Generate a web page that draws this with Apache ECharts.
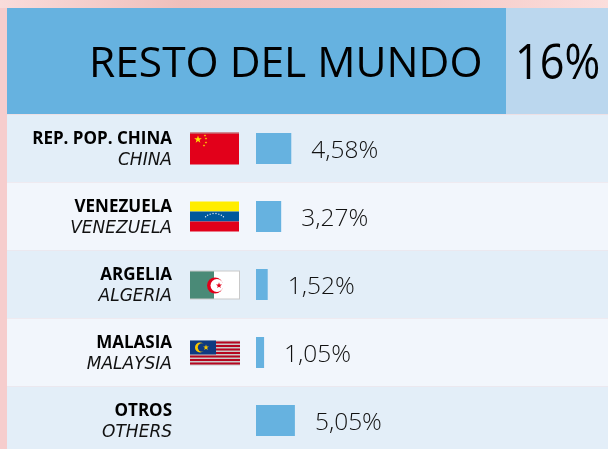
<!DOCTYPE html>
<html>
<head>
<meta charset="utf-8">
<script src="https://cdn.jsdelivr.net/npm/echarts@6/dist/echarts.min.js"></script>
<style>
    html, body { margin: 0; padding: 0; background: #f7d3d2; }
    #chart { width: 608px; height: 449px; }
</style>
</head>
<body>
<div id="chart"></div>
<script>
// Chart data
var titleText = 'RESTO DEL MUNDO';
var totalText = '16%';
var namesEs = ['REP. POP. CHINA', 'VENEZUELA', 'ARGELIA', 'MALASIA', 'OTROS'];
var namesEn = ['CHINA', 'VENEZUELA', 'ALGERIA', 'MALAYSIA', 'OTHERS'];
var shares = [4.58, 3.27, 1.52, 1.05, 5.05];
var flags = ['china', 'venezuela', 'algeria', 'malaysia', null];

var font = '"Open Sans", "Noto Sans", sans-serif';

var categories = namesEs.map(function(name, i) {
    return '{b|' + name + '}\n{i|' + namesEn[i] + '}';
});

// Five pointed star, centred on cx, cy
function star(cx, cy, r, fill) {
    var pts = [];
    for (var i = 0; i < 10; i++) {
        var rad = i % 2 ? r * 0.4 : r;
        var a = -Math.PI / 2 + i * Math.PI / 5;
        pts.push([cx + rad * Math.cos(a), cy + rad * Math.sin(a)]);
    }
    return { type: 'polygon', shape: { points: pts }, style: { fill: fill } };
}

function rect(x, y, w, h, fill) {
    return { type: 'rect', shape: { x: x, y: y, width: w, height: h }, style: { fill: fill } };
}

function circle(cx, cy, r, fill) {
    return { type: 'circle', shape: { cx: cx, cy: cy, r: r }, style: { fill: fill } };
}

// Flags are drawn relative to the row centre (x, y is the flag's left, centre)
var flagShapes = {
    china: function(x, y) {
        return [
            rect(x, y - 16, 49, 32, '#e2001a'),
            rect(x, y - 16, 49, 1, '#b9a0a0'),
            star(x + 8, y - 9, 4, '#ffe000'),
            star(x + 15, y - 13, 1.3, '#ffe000'),
            star(x + 16, y - 10, 1.3, '#ffe000'),
            star(x + 16, y - 6, 1.3, '#ffe000'),
            star(x + 14, y - 3, 1.3, '#ffe000')
        ];
    },
    venezuela: function(x, y) {
        var out = [
            rect(x, y - 15, 49, 10, '#ffed00'),
            rect(x, y - 5, 49, 10, '#00589c'),
            rect(x, y + 5, 49, 10, '#e2001a')
        ];
        for (var i = 0; i < 8; i++) {
            var a = Math.PI * (0.2 + 0.6 * i / 7);
            out.push(circle(x + 24.5 - 11 * Math.cos(a), y + 5 - 8 * Math.sin(a), 0.7, '#dfe9f2'));
        }
        return out;
    },
    algeria: function(x, y) {
        return [
            rect(x, y - 14, 50, 29, '#c9c9c9'),
            rect(x, y - 13, 24, 27, '#4a8a77'),
            rect(x + 24, y - 13, 25, 27, '#ffffff'),
            circle(x + 25, y + 1, 8, '#e2001a'),
            circle(x + 27, y + 1, 6.5, '#ffffff'),
            star(x + 29, y + 1, 3.2, '#e2001a')
        ];
    },
    malaysia: function(x, y) {
        var out = [rect(x, y - 12, 50, 25, '#c9c9c9')];
        for (var i = 0; i < 7; i++) {
            out.push(rect(x, y - 11 + i * 3.5, 50, 1.9, '#b5051f'));
        }
        out.push(rect(x, y - 12, 26, 14, '#0f3a80'));
        out.push(circle(x + 10, y - 5, 5, '#f7c600'));
        out.push(circle(x + 12, y - 5, 4.2, '#0f3a80'));
        out.push(star(x + 16, y - 5, 3, '#f7c600'));
        return out;
    }
};

var myChart = echarts.init(document.getElementById('chart'));

myChart.setOption({
    animation: false,
    backgroundColor: 'transparent',

    title: {
        text: titleText,
        left: 84,
        top: 38,
        textStyle: { fontFamily: font, fontSize: 42.5, fontWeight: 400, color: '#000' }
    },

    // Page backdrop and header blocks
    graphic: [
        { type: 'rect', z: -10, shape: { x: 0, y: 0, width: 608, height: 8 },
          style: { fill: new echarts.graphic.LinearGradient(0, 0, 1, 0, [
              { offset: 0, color: '#f9dcdb' }, { offset: 0.3, color: '#efbfbb' },
              { offset: 0.7, color: '#f5c9c6' }, { offset: 1, color: '#fbdedc' }
          ]) } },
        { type: 'rect', z: -10, shape: { x: 0, y: 8, width: 7, height: 441 },
          style: { fill: '#f6cdcd' } },
        { type: 'rect', z: -10, shape: { x: 7, y: 8, width: 499, height: 106 }, style: { fill: '#66b2e0' } },
        { type: 'rect', z: -10, shape: { x: 506, y: 8, width: 102, height: 106 }, style: { fill: '#bbd7ee' } },
        // Condensed total, no narrow font is installed
        { type: 'text', z: 5, x: 515, y: 40, scaleX: 0.865,
          style: { text: totalText, fill: '#000', font: '400 50px ' + font } }
    ],

    grid: { left: 256, right: 0, top: 114.5, height: 340, outerBoundsMode: 'none' },

    xAxis: { type: 'value', min: 0, max: 45.7, show: false },

    yAxis: {
        type: 'category',
        inverse: true,
        data: categories,
        axisLine: { show: false },
        axisTick: { show: false },
        splitLine: { show: false },
        z: 5,
        axisLabel: {
            margin: 84,
            align: 'right',
            interval: 0,
            padding: [3, 0, 0, 0],
            rich: {
                b: { fontFamily: font, fontSize: 17, fontWeight: 700, color: '#000', lineHeight: 22, align: 'right' },
                i: { fontFamily: '"DejaVu Sans", sans-serif', fontSize: 17, fontStyle: 'italic', color: '#111', lineHeight: 22, align: 'right' }
            }
        }
    },

    series: [
        // Row bands
        {
            type: 'custom',
            z: 0,
            silent: true,
            clip: false,
            data: shares.map(function(v, i) { return [0, i]; }),
            encode: { x: 0, y: 1 },
            renderItem: function(params, api) {
                var p = api.coord([0, api.value(1)]);
                var h = api.size([0, 1])[1];
                return {
                    type: 'rect',
                    shape: { x: 7, y: p[1] - h / 2, width: 601, height: h },
                    style: { fill: params.dataIndex % 2 ? '#f2f6fc' : '#e3eef8' }
                };
            }
        },
        // Flags
        {
            type: 'custom',
            z: 1,
            silent: true,
            clip: false,
            data: shares.map(function(v, i) { return [0, i]; }),
            encode: { x: 0, y: 1 },
            renderItem: function(params, api) {
                var shape = flagShapes[flags[params.dataIndex]];
                if (!shape) {
                    return null;
                }
                var p = api.coord([0, api.value(1)]);
                return { type: 'group', children: shape(p[0] - 66, p[1]) };
            }
        },
        // Shares
        {
            type: 'bar',
            z: 3,
            barWidth: 31,
            data: shares,
            itemStyle: { color: '#66b2e0' },
            label: {
                show: true,
                position: 'right',
                distance: 20,
                offset: [0, 3],
                fontFamily: font,
                fontSize: 24.5,
                fontWeight: 300,
                color: '#111',
                formatter: function(params) {
                    return params.value.toFixed(2).replace('.', ',') + '%';
                }
            }
        }
    ]
});
</script>
</body>
</html>
